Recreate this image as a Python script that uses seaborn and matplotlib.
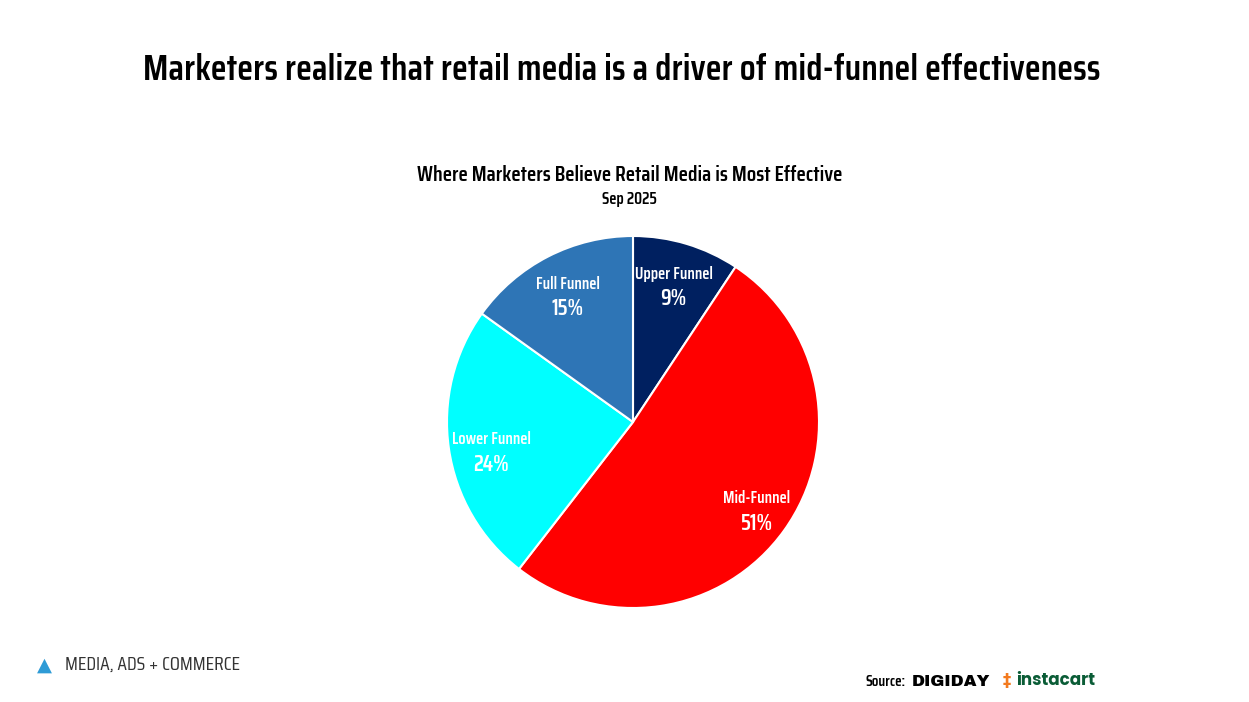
import numpy as np
import matplotlib
matplotlib.use("Agg")
import matplotlib.pyplot as plt
import seaborn as sns

categories = ["Upper Funnel", "Mid-Funnel", "Lower Funnel", "Full Funnel"]
values = [9.3, 51.2, 24.4, 15.1]
pct_labels = ["9%", "51%", "24%", "15%"]
colors = ["#002060", "#FF0000", "#00FFFF", "#2E75B6"]

title = "Marketers realize that retail media is a driver of mid-funnel effectiveness"
chart_title = "Where Marketers Believe Retail Media is Most Effective"
chart_sub = "Sep 2025"

sns.set_theme(style="white")
FAM = ["Saira Condensed", "Barlow Condensed", "DejaVu Sans"]
plt.rcParams["font.family"] = FAM

fig = plt.figure(figsize=(12.49, 7.02), dpi=100)
fig.patch.set_facecolor("white")

W, H = 1249, 702
cx, cy, r = 633, 422, 186
ax = fig.add_axes([(cx - r) / W, 1 - (cy + r) / H, 2 * r / W, 2 * r / H])
wedges, _ = ax.pie(values, colors=colors, startangle=90, counterclock=False,
                   wedgeprops=dict(edgecolor="white", linewidth=1.5))
ax.set_xlim(-1, 1)
ax.set_ylim(-1, 1)
ax.set_aspect("equal")
ax.axis("off")

# label placement (style): radial distance and vertical nudge
dists = [0.76, 0.82, 0.77, 0.77]
nudges = [0.0, 0.0, -0.05, -0.01]
for w, name, pct, d, dy in zip(wedges, categories, pct_labels, dists, nudges):
    ang = np.deg2rad((w.theta1 + w.theta2) / 2)
    x, y = d * np.cos(ang), d * np.sin(ang) + dy
    ax.text(x, y + 0.025, name, ha="center", va="bottom", color="white",
            fontsize=12, fontweight="semibold", family=FAM)
    ax.text(x, y - 0.01, pct, ha="center", va="top", color="white",
            fontsize=16, fontweight="semibold", family=FAM)

fig.text(0.498, 1 - 70 / H, title, ha="center", va="center", fontsize=26.6,
         fontweight="semibold", color="black", family=FAM)
fig.text(0.504, 1 - 175 / H, chart_title, ha="center", va="center", fontsize=15.6,
         fontweight="semibold", color="black", family=FAM)
fig.text(0.504, 1 - 199 / H, chart_sub, ha="center", va="center", fontsize=12,
         fontweight="semibold", color="black", family=FAM)

# footer
fig.text(65 / W, 1 - 665 / H, "MEDIA, ADS + COMMERCE", ha="left", va="center",
         fontsize=14, color="#333333", family=FAM)
fig.text(37 / W, 1 - 665 / H, "\u25B2", ha="left", va="center", fontsize=14,
         color="#2E9BD6", family=["DejaVu Sans"])
fig.text(865 / W, 1 - 682 / H, "Source:", ha="left", va="center", fontsize=11,
         fontweight="semibold", color="black", family=FAM)
fig.text(912 / W, 1 - 681 / H, "DIGIDAY", ha="left", va="center", fontsize=12,
         color="black", family=["Archivo Black", "DejaVu Sans"])
fig.text(1003 / W, 1 - 681 / H, "\u2021", ha="left", va="center", fontsize=12,
         fontweight="bold", color="#F37A1F", family=["DejaVu Sans"])
fig.text(1016 / W, 1 - 681 / H, "instacart", ha="left", va="center", fontsize=12,
         fontweight="bold", color="#0A5C36", family=["Poppins", "DejaVu Sans"])

fig.savefig("out.png", dpi=100, facecolor="white")
